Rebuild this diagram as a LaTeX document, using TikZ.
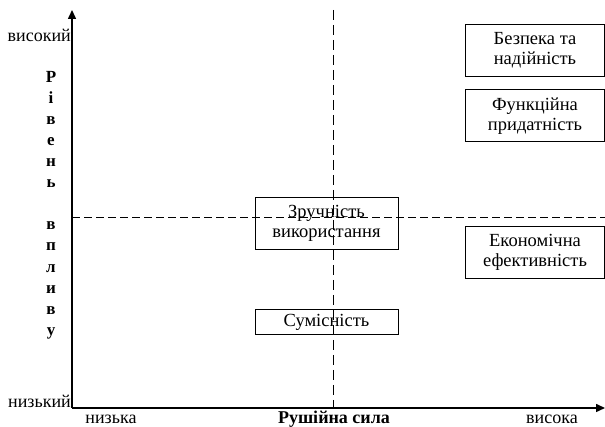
\documentclass[tikz,border=0pt]{standalone}
\usepackage{fontspec}
\setmainfont{Liberation Serif}
\usetikzlibrary{arrows.meta}
\usetikzlibrary{positioning}
\usetikzlibrary{scopes}

\tikzset{
    factor/.style={draw, line width=0.8pt, align=center, inner sep=0pt,
        minimum height=52pt, font=\fontsize{18.5}{20}\selectfont},
    leftfactor/.style={factor, minimum width=143pt},
    rightfactor/.style={factor, minimum width=139pt},
    axislabel/.style={inner sep=0pt, font=\fontsize{18}{20}\selectfont},
}

\begin{document}
\begin{tikzpicture}[x=1pt, y=1pt]
        \useasboundingbox (0,0) rectangle (605,427);
        \coordinate (origin) at (72,19);
        \coordinate (ytop) at (72,417);
        \coordinate (xend) at (605,19);
        \coordinate (midtop) at (333,417);
        \coordinate (midbottom) at (333,19);
        \coordinate (midleft) at (72,209);
        \coordinate (midright) at (605,209);
        { [line width=1pt]
            \draw[dash pattern=on 10pt off 5pt] (midtop) -- (midbottom);
            \draw[dash pattern=on 8pt off 4pt] (midleft) -- (midright);
        }
        { [line width=1.5pt, -{Triangle[length=9pt, width=8pt]}]
            \draw (origin) -- (ytop);
            \draw (origin) -- (xend);
        }
        \node[rightfactor, fill=white] (safety) at (535,377) {Безпека та\\надійність};
        \node[rightfactor, fill=white, below=13pt of safety] (fitness) {Функційна\\придатність};
        \node[rightfactor, fill=white] (economy) at (535,175) {Економічна\\ефективність};
        \node[leftfactor] (usability) at (326.5,204) {Зручність\\використання};
        \node[leftfactor, minimum height=25pt, below=60pt of usability] (compat) {Сумісність};
        \node[axislabel, anchor=base east] (high) at (71,385) {високий};
        \node[axislabel, anchor=base east] (low) at (71,19) {низький};
        \node[axislabel, anchor=base] (weak) at (111,3.5) {низька};
        \node[axislabel, anchor=base, font=\fontsize{18}{20}\selectfont\bfseries] (force) at (334,3.5) {Рушійна сила};
        \node[axislabel, anchor=base] (strong) at (552,3.5) {висока};
        \node[align=center, inner sep=0pt, font=\fontsize{17}{21.1}\selectfont\bfseries] (level) at (51,222)
            {Р\\і\\в\\е\\н\\ь\\[21.1pt]в\\п\\л\\и\\в\\у};
    \end{tikzpicture}
\end{document}
